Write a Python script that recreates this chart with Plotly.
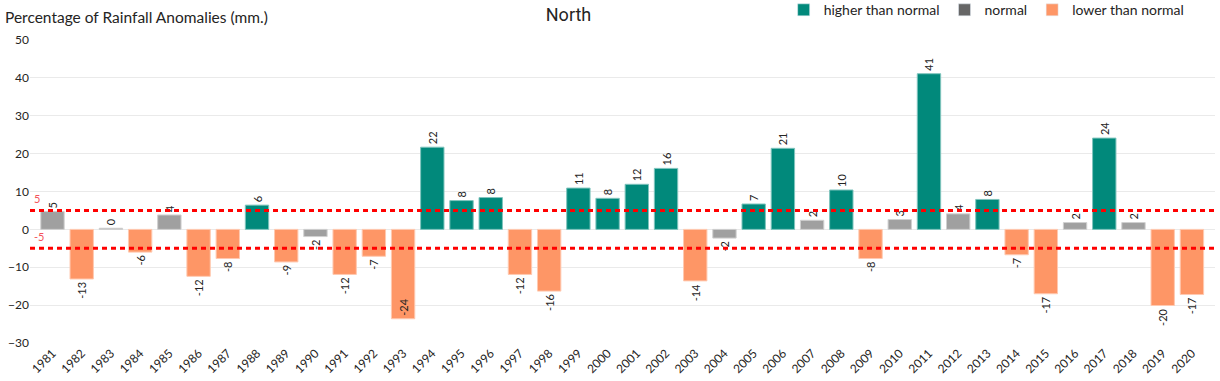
import plotly.graph_objects as go

years = list(range(1981, 2021))
anomalies = [4.7, -13.1, 0.3, -6.0, 3.8, -12.4, -7.7, 6.4, -8.6, -1.9,
             -11.9, -7.1, -23.6, 21.7, 7.6, 8.4, -11.9, -16.3, 10.9, 8.2,
             11.9, 16.1, -13.6, -2.3, 6.7, 21.4, 2.4, 10.4, -7.7, 2.6,
             41.1, 4.1, 7.9, -6.7, -17.0, 1.8, 24.1, 1.8, -20.1, -17.2]
threshold = 5
inside_label_years = [1993]

groups = [
    ("higher than normal", lambda v: v > threshold, "#01897B", "#7FC4BD"),
    ("normal", lambda v: -threshold <= v <= threshold, "#A0A0A0", "#D0D0D0"),
    ("lower than normal", lambda v: v < -threshold, "#FE9666", "#FFC9B0"),
]
legend_colors = {"higher than normal": "#01897B", "normal": "#666666",
                 "lower than normal": "#FE9666"}

FONT = "Segoe UI, Lato, Open Sans, sans-serif"
fig = go.Figure()
for name, test, color, edge in groups:
    xs = [y for y, v in zip(years, anomalies) if test(v)]
    vs = [v for v in anomalies if test(v)]
    pos = ["inside" if y in inside_label_years else "outside" for y in xs]
    fig.add_trace(go.Bar(
        x=xs, y=vs, name=name, showlegend=False, width=0.8,
        marker=dict(color=color, line=dict(color=edge, width=1)),
        texttemplate="%{y:.0f}", textposition=pos, textangle=-90,
        insidetextanchor="end",
        textfont=dict(size=11, color="#252423", family=FONT),
        outsidetextfont=dict(size=11, color="#252423", family=FONT),
        insidetextfont=dict(size=11, color="#252423", family=FONT),
        cliponaxis=False, hoverinfo="x+y",
    ))
    # legend-only entry
    fig.add_trace(go.Bar(x=[None], y=[None], name=name,
                         marker=dict(color=legend_colors[name]),
                         showlegend=True, hoverinfo="skip"))

fig.update_layout(
    width=1220, height=381,
    margin=dict(l=30, r=5, t=40, b=38, autoexpand=False),
    plot_bgcolor="white", paper_bgcolor="white",
    barmode="overlay",
    font=dict(family=FONT, size=12, color="#252423"),
    title=dict(text="North", x=0.466, xanchor="center", y=0.962, yanchor="middle",
               font=dict(family="Roboto, DIN, sans-serif", size=18, color="#252423")),
    legend=dict(orientation="h", x=0.636, xanchor="left", y=1.151, yanchor="top",
                font=dict(size=14, family=FONT, color="#252423"),
                itemwidth=30, traceorder="normal", bgcolor="rgba(0,0,0,0)"),
    showlegend=True,
)
fig.update_xaxes(
    range=[1981 - 0.77, 2020 + 0.79],
    tickmode="array", tickvals=years, ticktext=[str(y) for y in years],
    tickangle=-45, showgrid=False, zeroline=False, showline=False,
    tickfont=dict(size=12, family=FONT, color="#252423"), ticks="",
)
fig.update_yaxes(
    range=[-30, 50], dtick=10, showgrid=True, gridcolor="#EAEAEA", gridwidth=1,
    zeroline=True, zerolinecolor="#EAEAEA", zerolinewidth=1, showline=False,
    tickfont=dict(size=12, family=FONT, color="#252423"), ticks="",
)

for lvl in (threshold, -threshold):
    fig.add_shape(type="line", xref="paper", x0=0, x1=1, yref="y", y0=lvl, y1=lvl,
                  line=dict(color="#FF0000", width=3, dash="5px,4px"), layer="above")
    fig.add_annotation(x=0, xref="paper", xanchor="left", xshift=2,
                       y=lvl, yref="y", yanchor="bottom", yshift=3,
                       text=str(lvl), showarrow=False,
                       font=dict(size=11, color="#F4525A", family=FONT))

fig.add_annotation(x=(3 - 30) / 1185, xref="paper", xanchor="left",
                   y=1 + (40 - 17) / 303, yref="paper", yanchor="middle",
                   text="Percentage of Rainfall Anomalies (mm.)", showarrow=False,
                   font=dict(size=15.5, family=FONT, color="#252423"))

fig.write_html("out.html", config={"displayModeBar": False},
               post_script="document.body.style.margin='0';document.body.style.overflow='hidden';")
